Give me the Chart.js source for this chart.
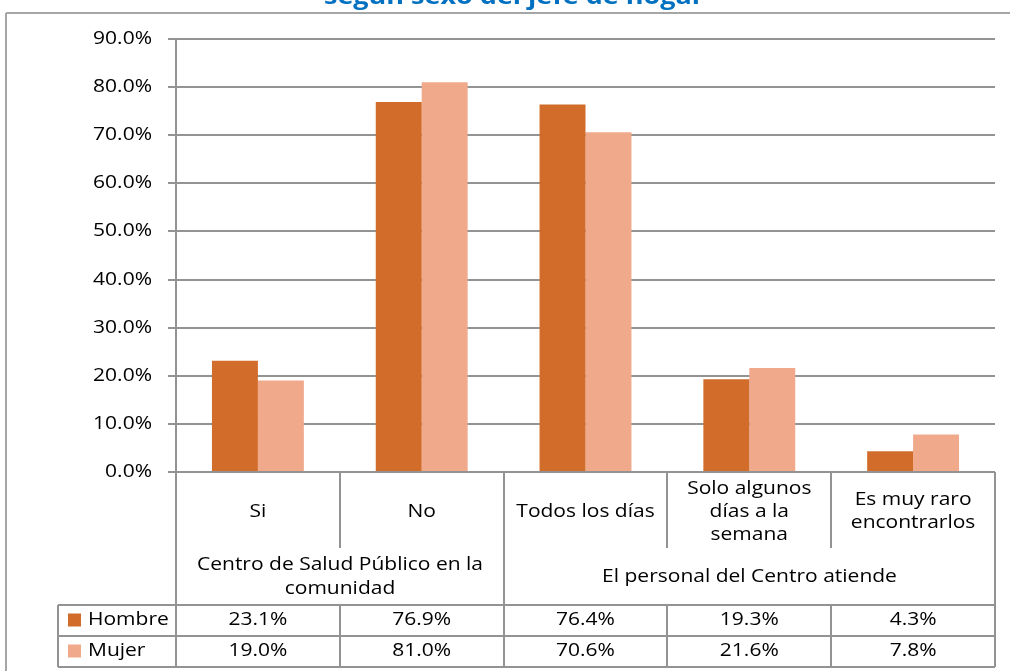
<!DOCTYPE html>
<html>
<head>
<meta charset="utf-8">
<script src="https://cdn.jsdelivr.net/npm/chart.js@4.4.1/dist/chart.umd.min.js"></script>
<style>
  html, body { margin: 0; padding: 0; background: #fff; }
  #wrap { width: 1010px; height: 671px; position: relative; }
</style>
</head>
<body>
<div id="wrap"><canvas id="chart" width="1010" height="671"></canvas></div>
<script>
// datos
const categories = [['Si'], ['No'], ['Todos los días'], ['Solo algunos', 'días a la', 'semana'], ['Es muy raro', 'encontrarlos']];
const groupLabels = [['Centro de Salud Público en la', 'comunidad'], ['El personal del Centro atiende']];
const groupSpans = [2, 3];
const hombre = [23.1, 76.9, 76.4, 19.3, 4.3];
const mujer = [19.0, 81.0, 70.6, 21.6, 7.8];
const yTicks = [0, 10, 20, 30, 40, 50, 60, 70, 80, 90];
const titleText = 'según sexo del jefe de hogar';

const colHombre = '#D26C2B';
const colMujer = '#F0A98A';
const lineCol = '#939393';
const FONT = '"Open Sans", sans-serif';
const SX = 1.2; // el texto original se ve ensanchado

function txt(ctx, s, x, y, align) {
    ctx.save();
    ctx.translate(x, y);
    ctx.scale(SX, 1);
    ctx.textAlign = align || 'center';
    ctx.textBaseline = 'middle';
    ctx.fillText(s, 0, 0);
    ctx.restore();
}

function line(ctx, x1, y1, x2, y2) {
    ctx.beginPath();
    ctx.moveTo(x1, y1);
    ctx.lineTo(x2, y2);
    ctx.stroke();
}

// tabla de datos, etiquetas y marco
const tablePlugin = {
    id: 'tabla',
    afterDraw(chart) {
        const ctx = chart.ctx;
        const xs = chart.scales.x;
        const ys = chart.scales.y;
        const area = chart.chartArea;
        const half = (xs.getPixelForValue(1) - xs.getPixelForValue(0)) / 2;
        const edges = [];
        for (let i = 0; i <= categories.length; i++) {
            edges.push(Math.round(xs.getPixelForValue(0) - half + i * 2 * half));
        }
        const top = area.bottom;
        const catBot = top + 76;
        const grpBot = top + 133;
        const r1 = top + 164;
        const r2 = top + 195;
        const legLeft = 58;

        ctx.save();
        // marco exterior
        ctx.strokeStyle = '#a6a6a6';
        ctx.lineWidth = 2;
        line(ctx, 6, 13, 1010, 13);
        line(ctx, 6, 13, 6, 671);

        // titulo (cortado arriba)
        ctx.fillStyle = '#0070C0';
        ctx.font = 'bold 22.5px ' + FONT;
        ctx.save();
        ctx.translate(514, 4);
        ctx.scale(SX, 1);
        ctx.textAlign = 'center';
        ctx.textBaseline = 'alphabetic';
        ctx.fillText(titleText, 0, 0);
        ctx.restore();

        // etiquetas eje y
        ctx.fillStyle = '#000';
        ctx.font = '17.5px ' + FONT;
        yTicks.forEach(v => {
            txt(ctx, v.toFixed(1) + '%', area.left - 24, ys.getPixelForValue(v), 'right');
        });

        // lineas de la tabla
        ctx.strokeStyle = lineCol;
        ctx.lineWidth = 2;
        const grpEdges = [0];
        groupSpans.forEach(s => grpEdges.push(grpEdges[grpEdges.length - 1] + s));
        edges.forEach((e, k) => {
            if (grpEdges.includes(k)) {
                line(ctx, e, top, e, r2);
            } else {
                line(ctx, e, top, e, catBot);
                line(ctx, e, grpBot, e, r2);
            }
        });
        line(ctx, legLeft, grpBot, edges[edges.length - 1], grpBot);
        line(ctx, legLeft, r1, edges[edges.length - 1], r1);
        line(ctx, legLeft, r2, edges[edges.length - 1], r2);
        line(ctx, legLeft, grpBot, legLeft, r2);

        // categorias
        const lh = 23;
        categories.forEach((lines, i) => {
            const cx = xs.getPixelForValue(i);
            const cy = (top + catBot) / 2 + 2;
            lines.forEach((s, j) => {
                txt(ctx, s, cx, cy + (j - (lines.length - 1) / 2) * lh);
            });
        });

        // grupos
        groupLabels.forEach((lines, g) => {
            const cx = (edges[grpEdges[g]] + edges[grpEdges[g + 1]]) / 2;
            const cy = (catBot + grpBot) / 2 + 1;
            lines.forEach((s, j) => {
                txt(ctx, s, cx, cy + (j - (lines.length - 1) / 2) * 24);
            });
        });

        // filas de series
        const rows = [[hombre, colHombre, 'Hombre', (grpBot + r1) / 2], [mujer, colMujer, 'Mujer', (r1 + r2) / 2]];
        rows.forEach(([vals, col, name, cy]) => {
            ctx.fillStyle = col;
            ctx.fillRect(legLeft + 10, cy - 7, 13, 13);
            ctx.fillStyle = '#000';
            txt(ctx, name, legLeft + 30, cy, 'left');
            vals.forEach((v, i) => {
                txt(ctx, v.toFixed(1) + '%', xs.getPixelForValue(i), cy);
            });
        });
        ctx.restore();
    }
};

new Chart(document.getElementById('chart'), {
    type: 'bar',
    data: {
        labels: categories.map(c => c.join(' ')),
        datasets: [
            { label: 'Hombre', data: hombre, backgroundColor: colHombre, categoryPercentage: 0.561, barPercentage: 1 },
            { label: 'Mujer', data: mujer, backgroundColor: colMujer, categoryPercentage: 0.561, barPercentage: 1 }
        ]
    },
    options: {
        responsive: false,
        animation: false,
        layout: { padding: { top: 39, bottom: 199, right: 15, left: 0 } },
        plugins: { legend: { display: false }, tooltip: { enabled: false } },
        scales: {
            x: { display: false },
            y: {
                min: 0,
                max: 90,
                afterFit: (s) => { s.width = 176; },
                afterBuildTicks: (s) => { s.ticks = yTicks.map(v => ({ value: v })); },
                ticks: { display: false },
                grid: { color: lineCol, lineWidth: 2, tickLength: 8, drawTicks: true },
                border: { display: true, color: lineCol, width: 2 }
            }
        }
    },
    plugins: [tablePlugin]
});
</script>
</body>
</html>
